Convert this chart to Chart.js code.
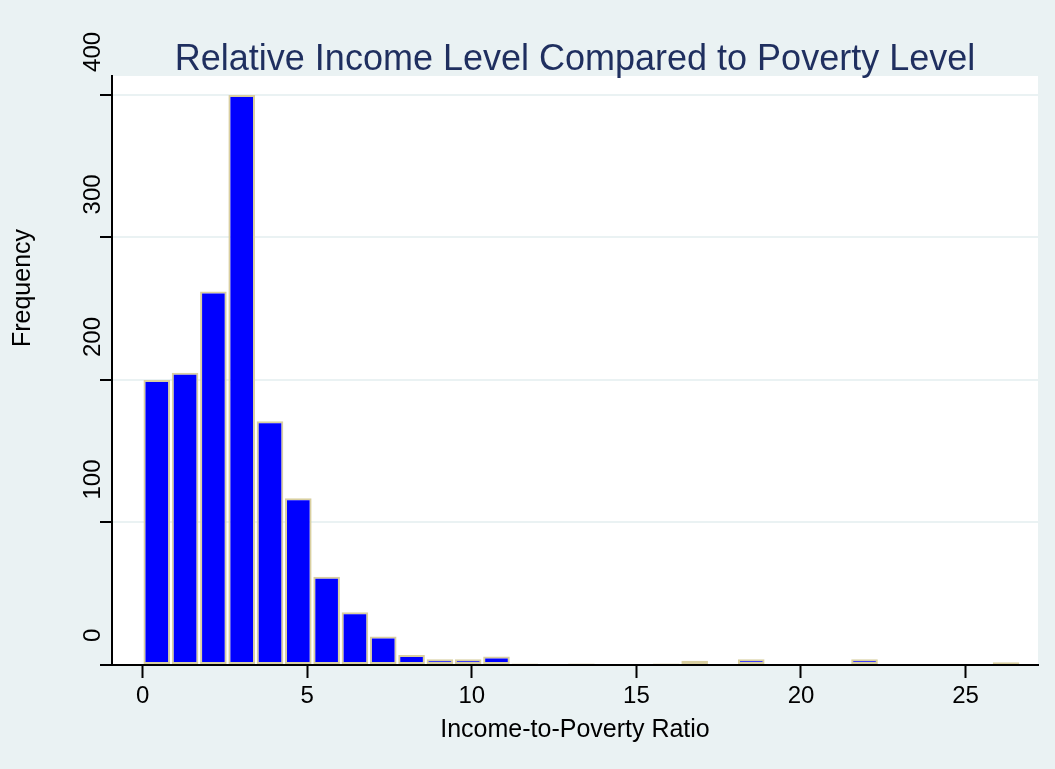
<!DOCTYPE html>
<html>
<head>
<meta charset="utf-8">
<script src="https://cdn.jsdelivr.net/npm/chart.js@4.4.1/dist/chart.umd.min.js"></script>
<style>
  html, body { margin: 0; padding: 0; background: #eaf2f3; }
</style>
</head>
<body>
<canvas id="hist" width="1055" height="769"></canvas>

<script>
// histogram bins: lower edge of each bin (income-to-poverty ratio), width 0.86
var binStarts = [0, 0.86, 1.72, 2.58, 3.44, 4.30, 5.16, 6.02, 6.88, 7.74,
                 8.60, 9.46, 10.32, 11.18, 12.04, 12.90, 13.76, 14.62, 15.48, 16.34,
                 17.20, 18.06, 18.92, 19.78, 20.64, 21.50, 22.36, 23.22, 24.08, 24.94, 25.80];
var binWidth = 0.86;
var counts = [200, 205, 262, 400, 171, 117, 62, 37, 20, 7,
              4, 4, 6, 1, 0, 1, 0, 0, 1, 3,
              0, 4, 0, 0, 0, 4, 0, 0, 0, 0, 2];
var xTicks = [0, 5, 10, 15, 20, 25];
var yTicks = [0, 100, 200, 300, 400];

var titleText = "Relative Income Level Compared to Poverty Level";
var xTitle = "Income-to-Poverty Ratio";
var yTitle = "Frequency";

var fontFamily = '"Liberation Sans", Arial, Helvetica, sans-serif';

// background, white plot region, title and the rotated y-axis text (stata style)
var stataLook = {
  id: 'stataLook',
  beforeDraw: function(chart) {
    var ctx = chart.ctx, a = chart.chartArea;
    ctx.save();
    ctx.fillStyle = '#eaf2f3';
    ctx.fillRect(0, 0, chart.width, chart.height);
    ctx.fillStyle = '#ffffff';
    ctx.fillRect(a.left, a.top, a.right - a.left, a.bottom - a.top);
    ctx.restore();
  },
  afterDraw: function(chart) {
    var ctx = chart.ctx, a = chart.chartArea, yScale = chart.scales.y;
    ctx.save();
    ctx.font = '36px ' + fontFamily;
    ctx.fillStyle = '#1f2f5f';
    ctx.textAlign = 'center';
    ctx.textBaseline = 'alphabetic';
    ctx.fillText(titleText, (a.left + a.right) / 2, 70);

    ctx.font = '24px ' + fontFamily;
    ctx.fillStyle = '#000000';
    ctx.textAlign = 'left';
    yTicks.forEach(function(v) {
      var py = yScale.getPixelForValue(v);
      ctx.save();
      ctx.translate(a.left - 12, py - 23);
      ctx.rotate(-Math.PI / 2);
      ctx.fillText(String(v), 0, 0);
      ctx.restore();
    });

    ctx.font = '25px ' + fontFamily;
    ctx.textAlign = 'center';
    ctx.translate(30, 288);
    ctx.rotate(-Math.PI / 2);
    ctx.fillText(yTitle, 0, 0);
    ctx.restore();
  }
};

var histData = binStarts.map(function(s, i) {
  return {x: s + binWidth / 2, y: counts[i]};
});

var ctx = document.getElementById("hist");
var hist = new Chart(ctx, {
  type: 'bar',
  data: {
    datasets: [{
      data: histData,
      backgroundColor: '#0000ff',
      borderColor: '#d9cfa0',
      borderWidth: 2,
      borderSkipped: false,
      barPercentage: 0.94,
      categoryPercentage: 1
    }]
  },
  options: {
    responsive: false,
    animation: false,
    layout: { padding: { top: 76, right: 17, left: 0, bottom: 0 } },
    plugins: {
      legend: { display: false },
      tooltip: { enabled: false }
    },
    scales: {
      x: {
        type: 'linear',
        min: -0.93,
        max: 27.2,
        offset: false,
        afterBuildTicks: function(s) { s.ticks = xTicks.map(function(v) { return {value: v}; }); },
        afterFit: function(s) { s.height = 104; },
        grid: { offset: false, drawOnChartArea: false, tickLength: 13, tickColor: '#000', tickWidth: 2 },
        border: { color: '#000', width: 2 },
        ticks: { color: '#000', font: { size: 24, family: fontFamily }, padding: 4, maxRotation: 0 },
        title: {
          display: true,
          text: xTitle,
          color: '#000',
          font: { size: 25, family: fontFamily },
          padding: { top: 0, bottom: 24 }
        }
      },
      y: {
        min: 0,
        max: 413.3,
        afterBuildTicks: function(s) { s.ticks = yTicks.map(function(v) { return {value: v}; }); },
        afterFit: function(s) { s.width = 112; },
        grid: {
          color: function(c) { return c.tick && c.tick.value === 0 ? 'rgba(0,0,0,0)' : '#eaf2f3'; },
          lineWidth: 2,
          tickColor: '#000',
          tickLength: 12,
          tickWidth: 2
        },
        border: { color: '#000', width: 2 },
        ticks: { display: false }
      }
    }
  },
  plugins: [stataLook]
});
</script>
</body>
</html>
